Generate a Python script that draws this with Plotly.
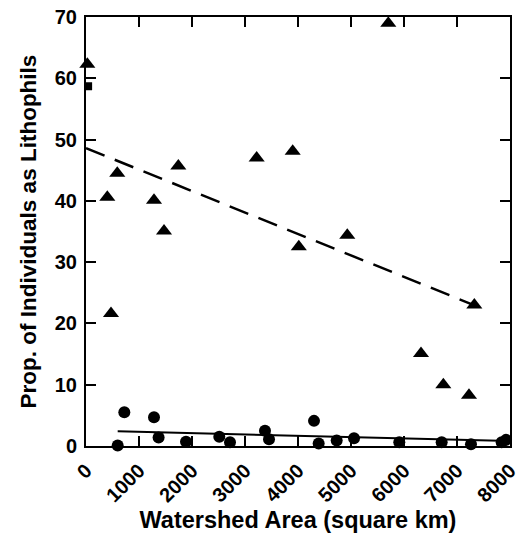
import plotly.graph_objects as go

# Lithophils proportion vs watershed area
tri_x = [25, 402, 472, 590, 1283, 1472, 1742, 3220, 3900, 4015, 4930, 5704, 6321, 6742, 7226, 7327]
tri_y = [62.3, 40.6, 21.6, 44.5, 40.1, 35.1, 45.7, 47.0, 48.1, 32.5, 34.4, 69.0, 15.1, 10.0, 8.3, 23.0]

circ_x = [598, 723, 1283, 1370, 1887, 2515, 2717, 3377, 3453, 4302, 4390, 4730, 5057, 5911, 6711, 7264, 7843, 7925]
circ_y = [0.1, 5.5, 4.7, 1.4, 0.7, 1.5, 0.6, 2.5, 1.1, 4.1, 0.4, 0.9, 1.25, 0.6, 0.6, 0.3, 0.6, 1.0]

sq_x = [40]
sq_y = [58.7]

dash_fit_x = [0, 7430]
dash_fit_y = [48.6, 22.6]
solid_fit_x = [598, 8000]
solid_fit_y = [2.4, 0.8]

x_ticks = [0, 1000, 2000, 3000, 4000, 5000, 6000, 7000, 8000]
y_ticks = [0, 10, 20, 30, 40, 50, 60, 70]

FONT = "Liberation Sans, Arial, sans-serif"

fig = go.Figure()
fig.add_trace(go.Scatter(x=dash_fit_x, y=dash_fit_y, mode="lines",
                         line=dict(color="black", width=2.5, dash="20px,11px"),
                         showlegend=False, cliponaxis=False))
fig.add_trace(go.Scatter(x=solid_fit_x, y=solid_fit_y, mode="lines",
                         line=dict(color="black", width=2),
                         showlegend=False, cliponaxis=False))
fig.add_trace(go.Scatter(x=tri_x, y=tri_y, mode="markers",
                         marker=dict(symbol="triangle-up", size=14, color="black"),
                         showlegend=False, cliponaxis=False))
fig.add_trace(go.Scatter(x=circ_x, y=circ_y, mode="markers",
                         marker=dict(symbol="circle", size=12, color="black"),
                         showlegend=False, cliponaxis=False))
fig.add_trace(go.Scatter(x=sq_x, y=sq_y, mode="markers",
                         marker=dict(symbol="square", size=8, color="black"),
                         showlegend=False, cliponaxis=False))

axis_common = dict(showline=True, linewidth=2, linecolor="black", mirror="ticks",
                   ticks="inside", ticklen=10, tickwidth=2, tickcolor="black",
                   showgrid=False, zeroline=False, automargin=False,
                   ticklabeloverflow="allow",
                   tickfont=dict(family=FONT, size=20, color="black", weight="bold"))

fig.update_xaxes(range=[0, 8000], tickvals=x_ticks, ticktext=[str(v) for v in x_ticks],
                 tickangle=-45, ticklabelstandoff=3,
                 title=dict(text="Watershed Area (square km)", standoff=6,
                            font=dict(family=FONT, size=23.5, color="black", weight="bold")),
                 **axis_common)
fig.update_yaxes(range=[0, 70], tickvals=y_ticks, ticktext=[str(v) for v in y_ticks],
                 ticklabelstandoff=3,
                 title=dict(text="Prop. of Individuals as Lithophils", standoff=12,
                            font=dict(family=FONT, size=22.5, color="black", weight="bold")),
                 **axis_common)

fig.update_layout(width=520, height=537, margin=dict(l=86, r=10, t=17, b=91),
                  plot_bgcolor="white", paper_bgcolor="white",
                  font=dict(family=FONT, color="black"))

fig.write_html("out.html")
